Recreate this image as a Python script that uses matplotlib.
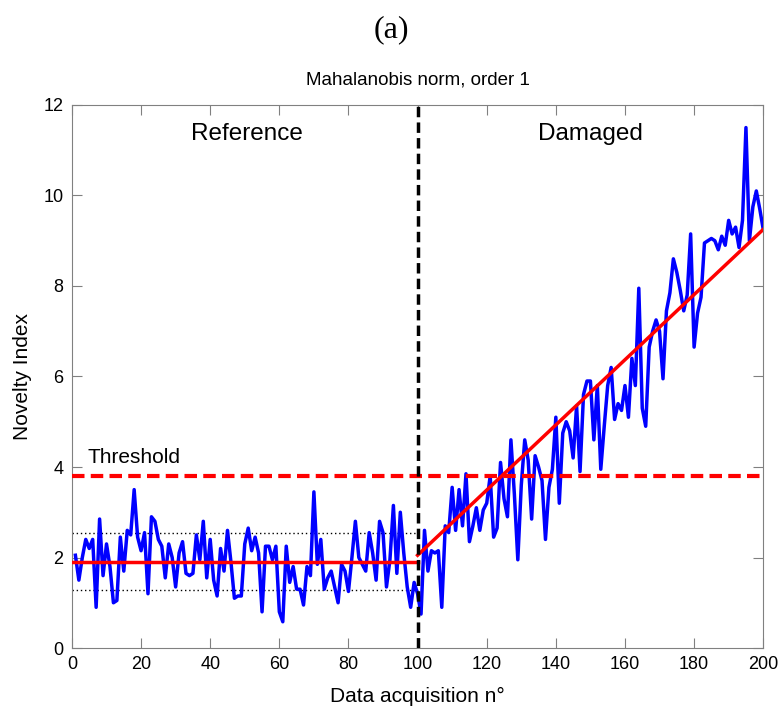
import numpy as np
import matplotlib
matplotlib.use("Agg")
import matplotlib.pyplot as plt

plt.rcParams["font.family"] = ["Liberation Sans", "DejaVu Sans"]

# novelty index per acquisition (1..200)
novelty = [
    2.05, 1.5, 2.0, 2.4, 2.2, 2.4, 0.9, 2.85, 1.6, 2.3,
    1.8, 1.0, 1.05, 2.45, 1.7, 2.6, 2.5, 3.5, 2.45, 2.15,
    2.55, 1.2, 2.9, 2.8, 2.4, 2.25, 1.55, 2.3, 2.0, 1.35,
    2.1, 2.35, 1.65, 1.6, 1.65, 2.5, 1.95, 2.8, 1.55, 2.4,
    1.5, 1.15, 2.2, 1.7, 2.6, 1.9, 1.1, 1.15, 1.15, 2.3,
    2.65, 2.15, 2.45, 2.1, 0.8, 2.25, 2.25, 1.95, 2.25, 0.8,
    0.58, 2.25, 1.45, 1.8, 1.3, 1.3, 0.95, 1.8, 1.6, 3.45,
    1.85, 2.4, 1.3, 1.55, 1.7, 1.35, 1.0, 1.85, 1.7, 1.25,
    2.0, 2.8, 2.0, 1.85, 1.7, 2.55, 2.1, 1.5, 2.8, 2.55,
    1.35, 1.95, 3.15, 1.65, 3.0, 2.1, 1.35, 0.9, 1.45, 1.2,
    0.75, 2.6, 1.7, 2.15, 2.1, 2.15, 0.9, 2.7, 2.55, 3.55,
    2.6, 3.5, 2.7, 3.85, 2.35, 2.7, 3.1, 2.6, 3.05, 3.2,
    3.8, 2.45, 2.65, 4.1, 3.3, 2.9, 4.6, 3.4, 1.95, 3.6,
    4.6, 4.15, 2.85, 4.25, 4.0, 3.7, 2.4, 3.55, 3.95, 5.1,
    3.2, 4.75, 5.0, 4.8, 4.2, 5.35, 3.9, 5.6, 5.9, 5.9,
    4.6, 5.8, 3.95, 4.9, 5.8, 6.2, 5.05, 5.4, 5.25, 5.8,
    5.1, 6.4, 5.8, 7.95, 5.3, 4.9, 6.65, 7.0, 7.25, 7.0,
    5.95, 7.45, 7.85, 8.6, 8.3, 7.9, 7.45, 7.8, 9.15, 6.65,
    7.4, 7.75, 8.95, 9.0, 9.05, 9.0, 8.8, 9.1, 8.9, 9.45,
    9.15, 9.3, 8.85, 9.45, 11.5, 9.0, 9.75, 10.1, 9.7, 9.25,
]
acq = np.arange(1, len(novelty) + 1)

ref_mean = 1.9
ref_band = [2.55, 1.28]
threshold = 3.8
trend_x = [100, 200]
trend_y = [2.05, 9.25]

fig = plt.figure(figsize=(7.82, 7.14), dpi=100)
ax = fig.add_axes([0.092, 0.0924, 0.884, 0.7606])

ax.plot(acq, novelty, color="#0000ff", lw=2.5, zorder=3)
ax.plot([0, 100], [ref_mean, ref_mean], color="#ff0000", lw=2.5, zorder=4)
ax.plot(trend_x, trend_y, color="#ff0000", lw=2.5, zorder=4)
for b in ref_band:
    ax.plot([0, 100], [b, b], color="black", lw=1, ls=(0, (1, 2)), zorder=2)
ax.plot([0, 200], [threshold, threshold], color="#ff0000", lw=3,
        ls=(0, (3, 1.5)), zorder=4)
ax.plot([100, 100], [0, 12], color="black", lw=2.5, ls=(0, (3, 1.5)), zorder=5)

ax.text(4.6, 4.0, "Threshold", fontsize=15, ha="left", va="bottom")
ax.text(50.5, 11.35, "Reference", fontsize=17.5, ha="center", va="center")
ax.text(150, 11.35, "Damaged", fontsize=17.5, ha="center", va="center")

ax.set_xlim(0, 200)
ax.set_ylim(0, 12)
ax.set_xticks(np.arange(0, 201, 20))
ax.set_yticks(np.arange(0, 13, 2))
for s in ax.spines.values():
    s.set_color("#808080")
ax.tick_params(direction="in", top=True, right=True, labelsize=13, length=7,
               color="#808080", pad=6)
ax.set_xlabel("Data acquisition n°", fontsize=15, labelpad=10)
ax.set_ylabel("Novelty Index", fontsize=15, labelpad=8)
ax.set_title("Mahalanobis norm, order 1", fontsize=13.5, pad=15)

fig.text(0.5, 0.958, "(a)", fontsize=23, ha="center", va="center",
         family=["Liberation Serif", "DejaVu Serif"])

fig.savefig("out.png", dpi=100)
